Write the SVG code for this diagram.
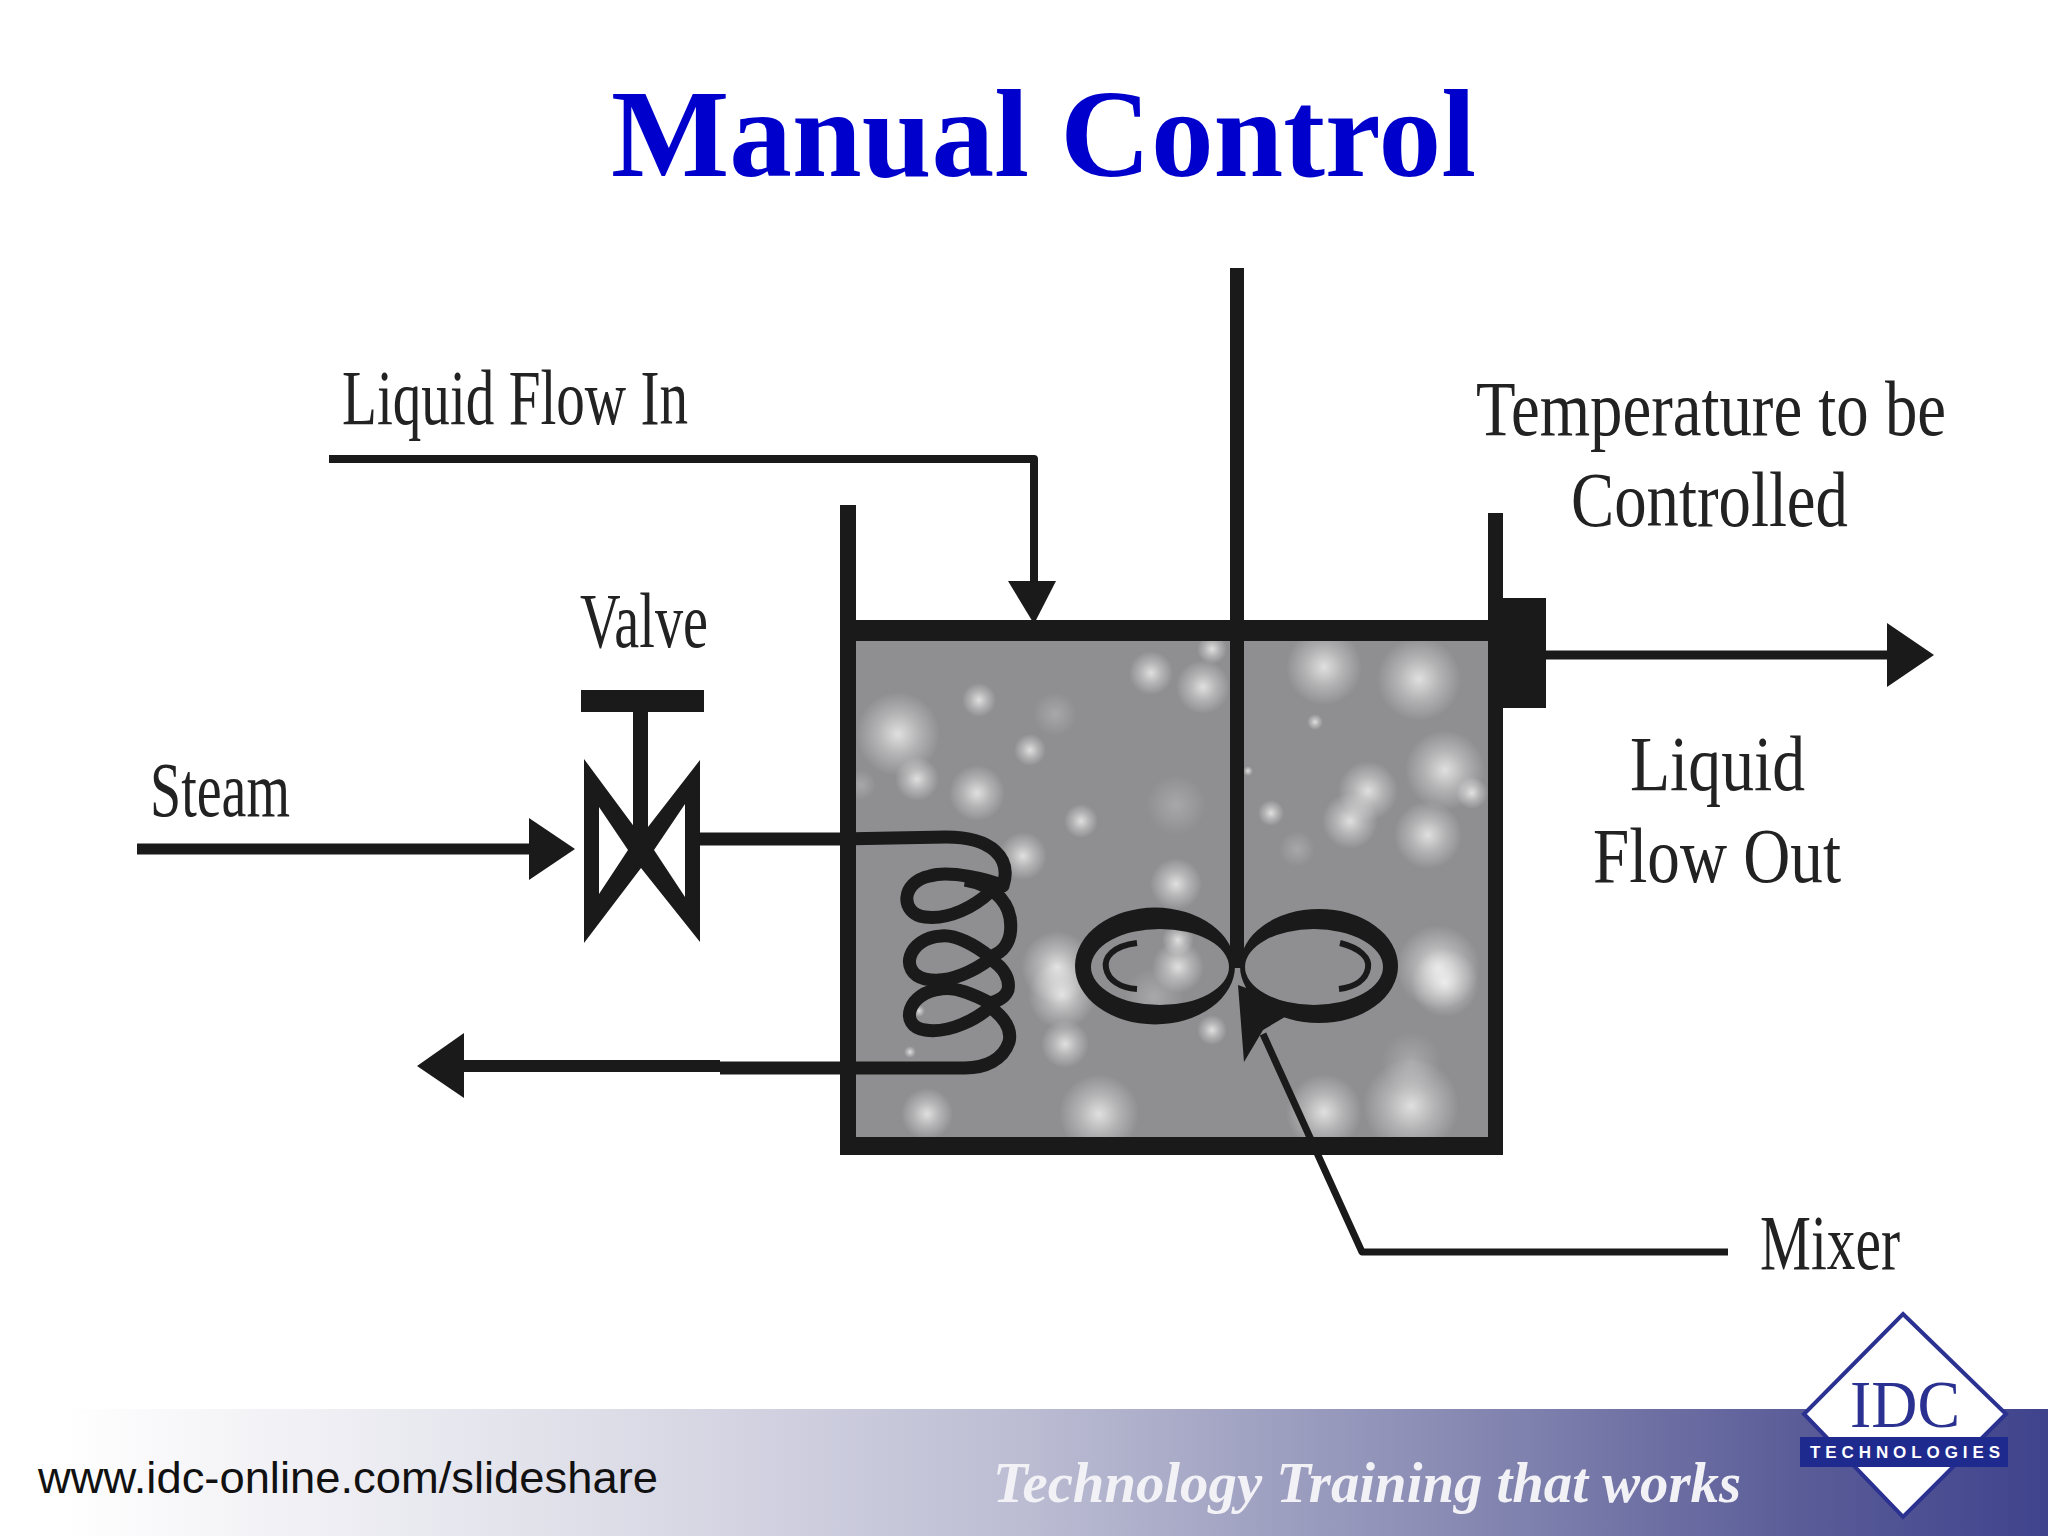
<svg xmlns="http://www.w3.org/2000/svg" width="2048" height="1536" viewBox="0 0 2048 1536">
<style>
.ink{fill:#1a1a1a}
.ln{fill:none;stroke:#1a1a1a;stroke-linejoin:round}
.lb{font-family:"Liberation Serif",serif;font-size:78px;fill:#222}
.b{fill:url(#bub)}
.f{fill:url(#bubf)}
</style>
<defs>
<linearGradient id="band" x1="0" x2="1" y1="0" y2="0">
<stop offset="0.03" stop-color="#ffffff"/>
<stop offset="0.3" stop-color="#dddde8"/>
<stop offset="0.5" stop-color="#bcbdd3"/>
<stop offset="0.7" stop-color="#8b8db5"/>
<stop offset="0.88" stop-color="#5a5c98"/>
<stop offset="1" stop-color="#3f438c"/>
</linearGradient>
<radialGradient id="bub"><stop offset="0" stop-color="#fff" stop-opacity=".72"/><stop offset=".5" stop-color="#fff" stop-opacity=".32"/><stop offset="1" stop-color="#fff" stop-opacity="0"/></radialGradient>
<radialGradient id="bubf"><stop offset="0" stop-color="#fff" stop-opacity=".22"/><stop offset="1" stop-color="#fff" stop-opacity="0"/></radialGradient>
<clipPath id="liq"><rect x="856" y="641" width="634" height="496"/></clipPath>
</defs>
<rect width="2048" height="1536" fill="#fff"/>
<text id="title" x="611" y="176" font-family="'Liberation Serif',serif" font-weight="700" font-size="125" fill="#0000cc" textLength="865" lengthAdjust="spacingAndGlyphs">Manual Control</text>

<g id="tank">
<rect x="856" y="641" width="634" height="496" fill="#8f8f91"/>
<g clip-path="url(#liq)">
<circle class="b" cx="898" cy="734" r="42"/><circle class="b" cx="979" cy="700" r="17"/><circle class="f" cx="1055" cy="714" r="22"/><circle class="b" cx="1030" cy="750" r="16"/><circle class="b" cx="917" cy="779" r="22"/><circle class="b" cx="977" cy="793" r="28"/><circle class="f" cx="861" cy="785" r="15"/><circle class="b" cx="1081" cy="821" r="17"/><circle class="f" cx="1176" cy="805" r="30"/><circle class="b" cx="1023" cy="856" r="24"/><circle class="b" cx="1151" cy="673" r="22"/><circle class="b" cx="1203" cy="687" r="27"/><circle class="b" cx="1212" cy="649" r="15"/><circle class="b" cx="1324" cy="667" r="38"/><circle class="b" cx="1419" cy="679" r="42"/><circle class="b" cx="1315" cy="722" r="8"/><circle class="b" cx="1248" cy="771" r="5"/><circle class="b" cx="1271" cy="813" r="13"/><circle class="b" cx="1445" cy="770" r="40"/><circle class="b" cx="1472" cy="793" r="16"/><circle class="b" cx="1368" cy="791" r="30"/><circle class="b" cx="1350" cy="821" r="28"/><circle class="b" cx="1428" cy="835" r="34"/><circle class="f" cx="1297" cy="849" r="18"/><circle class="b" cx="1176" cy="884" r="26"/><circle class="b" cx="1178" cy="940" r="16"/><circle class="b" cx="1178" cy="967" r="26"/><circle class="f" cx="1154" cy="997" r="30"/><circle class="b" cx="1057" cy="967" r="36"/><circle class="b" cx="1062" cy="995" r="34"/><circle class="b" cx="1212" cy="1030" r="15"/><circle class="b" cx="1065" cy="1044" r="24"/><circle class="b" cx="1438" cy="967" r="42"/><circle class="b" cx="1445" cy="983" r="34"/><circle class="b" cx="1411" cy="1106" r="48"/><circle class="f" cx="1411" cy="1062" r="30"/><circle class="b" cx="1324" cy="1112" r="38"/><circle class="b" cx="1099" cy="1114" r="40"/><circle class="b" cx="927" cy="1114" r="26"/><circle class="b" cx="919" cy="1011" r="6"/><circle class="b" cx="910" cy="1052" r="6"/>
</g>
<rect class="ink" x="856" y="620" width="634" height="21"/>
<rect class="ink" x="840" y="505" width="16" height="650"/>
<rect class="ink" x="1488" y="513" width="15" height="642"/>
<rect class="ink" x="848" y="1137" width="650" height="18"/>
</g>

<g id="sensor"><rect class="ink" x="1503" y="598" width="43" height="110"/></g>

<g id="connectors">
<path class="ln" stroke-width="8" d="M329 459H1034V590"/>
<polygon class="ink" points="1008,581 1056,581 1034,624"/>
<path class="ln" stroke-width="9" d="M1546 655H1895"/>
<polygon class="ink" points="1887,623 1934,655 1887,687"/>
<path class="ln" stroke-width="11" d="M137 849H535"/>
<polygon class="ink" points="529,818 575,849 529,880"/>
<path class="ln" stroke-width="12" d="M460 1066H720"/>
<polygon class="ink" points="417,1066 464,1033 464,1098"/>
<path class="ln" stroke-width="7" d="M1263 1034L1362 1252H1728"/>
</g>

<g id="valve">
<rect class="ink" x="581" y="690" width="123" height="22"/>
<rect class="ink" x="633" y="712" width="15" height="130"/>
<path class="ink" fill-rule="evenodd" d="M584 759L641 836L700 760V942L641 868L584 943ZM599 807V894L628 850ZM685 804L654 850L685 897Z"/>
</g>

<g id="coil">
<path class="ln" stroke-width="13" d="M700 839H840L946 837C992 837 1012 858 1003 886C990 880 950 870 930 876C900 882 900 914 925 917C950 920 975 906 990 892"/>
<path class="ln" stroke-width="13" d="M965 880C995 885 1015 905 1010 935C1007 948 1000 953 990 957C975 945 955 934 941 936C908 938 898 972 925 979C950 985 978 968 990 959C1005 968 1010 980 1008 990C1005 998 998 1001 990 1003C975 995 955 986 941 989C908 992 898 1026 925 1030C950 1034 978 1018 990 1007C1005 1018 1012 1030 1009 1042C1003 1060 985 1068 965 1068H720"/>
</g>

<g id="mixer">
<rect class="ink" x="1230" y="268" width="14" height="700"/>
<path class="ink" fill-rule="evenodd" d="M1075 966A78 57 0 1 0 1235 966A78 57 0 1 0 1075 966ZM1091 967A69 38 0 1 1 1229 967A69 38 0 1 1 1091 967Z"/>
<path class="ink" fill-rule="evenodd" d="M1240 966A79 57 0 1 0 1398 966A79 57 0 1 0 1240 966ZM1245 967A69 38 0 1 1 1383 967A69 38 0 1 1 1245 967Z"/>
<path class="ln" stroke-width="6" d="M1137 943C1112 946 1104 958 1106 968C1108 980 1120 988 1137 989"/>
<path class="ln" stroke-width="6" d="M1340 943C1360 948 1370 958 1368 968C1366 980 1355 987 1339 989"/>
<polygon class="ink" points="1238,985 1300,1008 1263,1030 1244,1062"/>
</g>

<g id="labels">
<text class="lb" x="342" y="424" textLength="346" lengthAdjust="spacingAndGlyphs">Liquid Flow In</text>
<text class="lb" x="1476" y="435" textLength="470" lengthAdjust="spacingAndGlyphs">Temperature to be</text>
<text class="lb" x="1571" y="526" textLength="277" lengthAdjust="spacingAndGlyphs">Controlled</text>
<text class="lb" x="1630" y="790" textLength="175" lengthAdjust="spacingAndGlyphs">Liquid</text>
<text class="lb" x="1593" y="882" textLength="248" lengthAdjust="spacingAndGlyphs">Flow Out</text>
<text class="lb" x="580" y="647" textLength="128" lengthAdjust="spacingAndGlyphs">Valve</text>
<text class="lb" x="150" y="816" textLength="140" lengthAdjust="spacingAndGlyphs">Steam</text>
<text class="lb" x="1760" y="1269" textLength="140" lengthAdjust="spacingAndGlyphs">Mixer</text>
</g>

<g id="footer">
<rect y="1409" width="2048" height="127" fill="url(#band)"/>
<text x="38" y="1493" font-family="'Liberation Sans',sans-serif" font-size="44" fill="#111" textLength="620" lengthAdjust="spacingAndGlyphs">www.idc-online.com/slideshare</text>
<text x="993" y="1502" font-family="'Liberation Serif',serif" font-weight="700" font-style="italic" font-size="58" fill="#f2f2f6" textLength="748" lengthAdjust="spacingAndGlyphs">Technology Training that works</text>
</g>

<g id="logo">
<polygon points="1903,1314 2006,1414 1903,1517 1804,1414" fill="#fff" stroke="#2a3190" stroke-width="4"/>
<rect x="1800" y="1437" width="208" height="30" fill="#1f2a8e"/>
<text x="1850" y="1427" font-family="'Liberation Serif',serif" font-size="68" fill="#2a3190" textLength="110" lengthAdjust="spacingAndGlyphs">IDC</text>
<text x="1810" y="1458" font-family="'Liberation Sans',sans-serif" font-weight="700" font-size="17" fill="#fff" textLength="190">TECHNOLOGIES</text>
</g>
</svg>
